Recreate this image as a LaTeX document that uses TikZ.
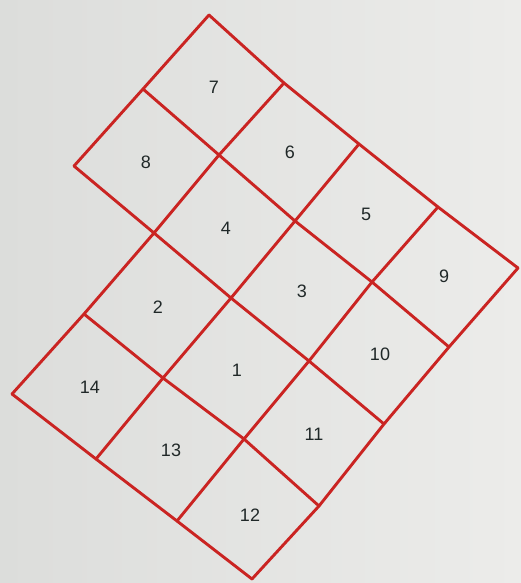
\documentclass[tikz,border=0pt]{standalone}
\usepackage{fontspec}
\setmainfont{Liberation Sans}
\definecolor{paperL}{RGB}{220,221,219}
\definecolor{paperR}{RGB}{236,236,234}
\definecolor{gridred}{RGB}{202,36,34}
\definecolor{numcol}{RGB}{32,40,40}
\begin{document}
\begin{tikzpicture}[x=1pt,y=-1pt,
  gridline/.style={draw=gridred,line width=2.9pt,line join=round,line cap=round},
  num/.style={font=\fontsize{18}{18}\selectfont,text=numcol,inner sep=0pt}]
\shade[left color=paperL,right color=paperR] (0,0) rectangle (521,583);
\useasboundingbox (0,0) rectangle (521,583);
% lattice vertices P(i,j)
\coordinate (P00) at (209,15);
\coordinate (P10) at (284,83);
\coordinate (P20) at (359,144);
\coordinate (P30) at (438,207);
\coordinate (P40) at (518,268);
\coordinate (P01) at (143,89);
\coordinate (P11) at (219,155);
\coordinate (P21) at (295,221);
\coordinate (P31) at (372,282);
\coordinate (P41) at (449,347);
\coordinate (P02) at (74,166);
\coordinate (P12) at (154,233);
\coordinate (P22) at (231,298);
\coordinate (P32) at (309,361);
\coordinate (P42) at (384,424);
\coordinate (P13) at (84,314);
\coordinate (P23) at (163,378);
\coordinate (P33) at (244,439);
\coordinate (P43) at (319,506);
\coordinate (P14) at (12,394);
\coordinate (P24) at (96,459);
\coordinate (P34) at (177,521);
\coordinate (P44) at (252,579);
% lines along one direction
\draw[gridline] (P00) -- (P10) -- (P20) -- (P30) -- (P40);
\draw[gridline] (P01) -- (P11) -- (P21) -- (P31) -- (P41);
\draw[gridline] (P02) -- (P12) -- (P22) -- (P32) -- (P42);
\draw[gridline] (P13) -- (P23) -- (P33) -- (P43);
\draw[gridline] (P14) -- (P24) -- (P34) -- (P44);
% lines along the other direction
\draw[gridline] (P00) -- (P01) -- (P02);
\draw[gridline] (P10) -- (P11) -- (P12) -- (P13) -- (P14);
\draw[gridline] (P20) -- (P21) -- (P22) -- (P23) -- (P24);
\draw[gridline] (P30) -- (P31) -- (P32) -- (P33) -- (P34);
\draw[gridline] (P40) -- (P41) -- (P42) -- (P43) -- (P44);
% labels
\node[num] (n7) at (214,87) {7};
\node[num] (n6) at (290,152) {6};
\node[num] (n8) at (146,162) {8};
\node[num] (n5) at (366,214) {5};
\node[num] (n9) at (444,276) {9};
\node[num] (n4) at (226,228) {4};
\node[num] (n3) at (302,291) {3};
\node[num] (n2) at (158,307) {2};
\node[num] (n1) at (237,370) {1};
\node[num] (n10) at (380,354) {10};
\node[num] (n14) at (90,387) {14};
\node[num] (n11) at (314,434) {11};
\node[num] (n13) at (171,450) {13};
\node[num] (n12) at (250,515) {12};
\end{tikzpicture}
\end{document}
